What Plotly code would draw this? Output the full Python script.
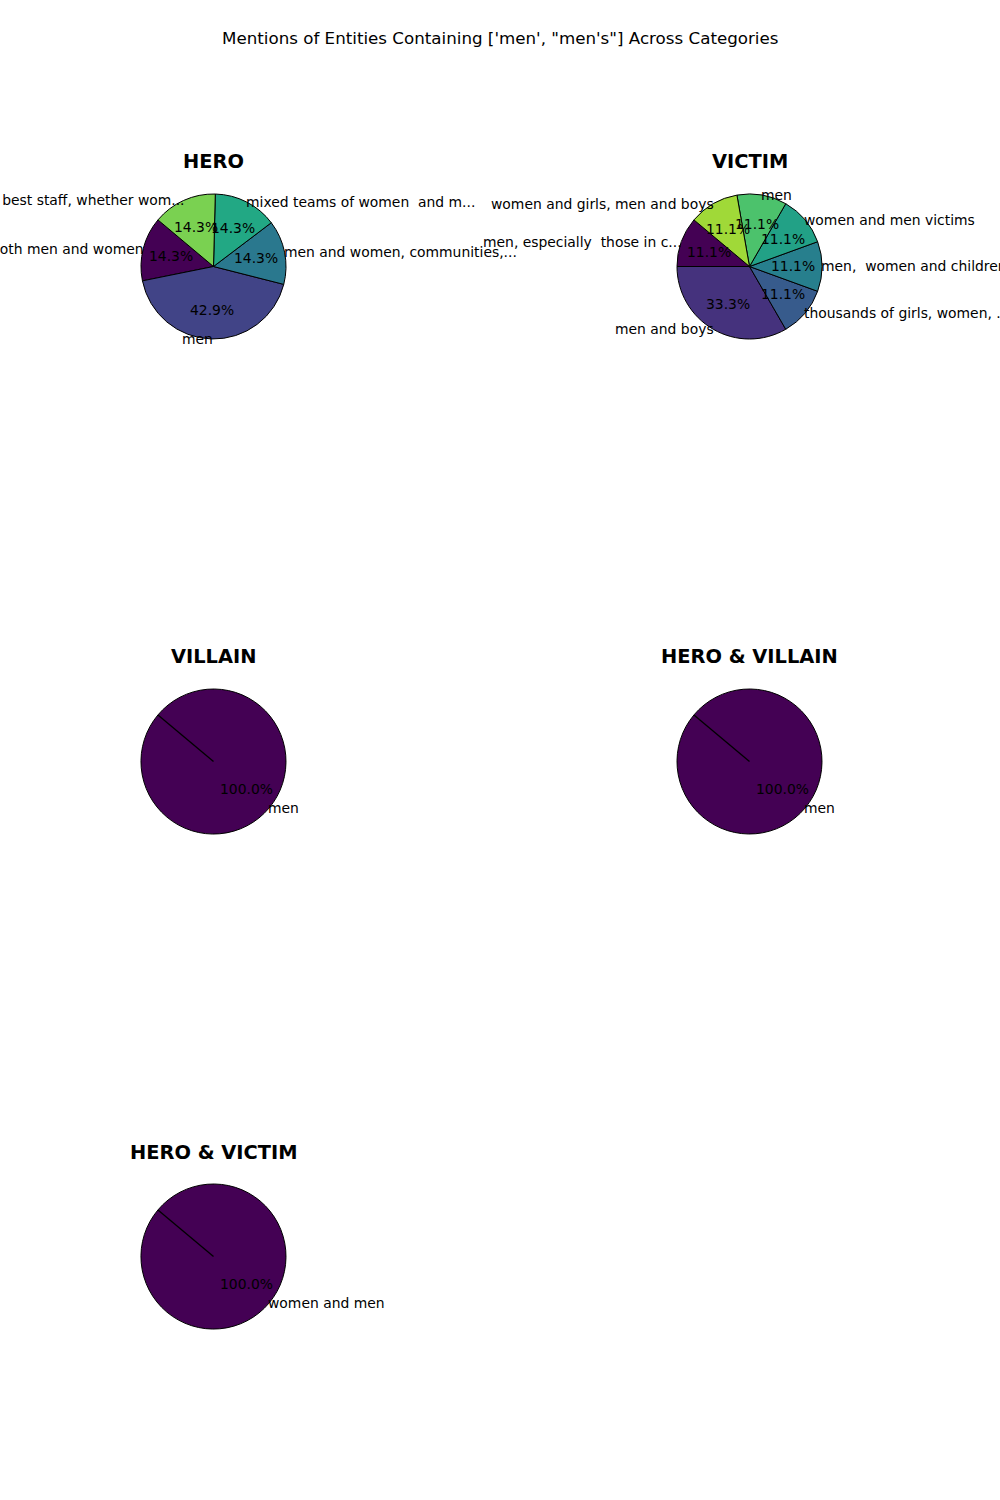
import numpy as np
import plotly.graph_objects as go

TITLE = "Mentions of Entities Containing ['men', \"men's\"] Across Categories"

categories = ["HERO", "VICTIM", "VILLAIN", "HERO & VILLAIN", "HERO & VICTIM"]

hero_labels = ["both men and women", "men", "men and women, communities,...",
               "mixed teams of women  and m...", "the best staff, whether wom..."]
hero_counts = [1, 3, 1, 1, 1]

victim_labels = ["men, especially  those in c...", "men and boys", "thousands of girls, women, ...",
                 "men,  women and children", "women and men victims", "men",
                 "women and girls, men and boys"]
victim_counts = [1, 3, 1, 1, 1, 1, 1]

villain_labels = ["men"]
villain_counts = [1]

hero_villain_labels = ["men"]
hero_villain_counts = [1]

hero_victim_labels = ["women and men"]
hero_victim_counts = [1]

data = {
    "HERO": (hero_labels, hero_counts),
    "VICTIM": (victim_labels, victim_counts),
    "VILLAIN": (villain_labels, villain_counts),
    "HERO & VILLAIN": (hero_villain_labels, hero_villain_counts),
    "HERO & VICTIM": (hero_victim_labels, hero_victim_counts),
}

# ---- layout / style ----
W, H = 1000, 1500
R = 72.5
COL_X = [213.5, 749.5]
ROW_Y = [266.5, 761.5, 1256.5]
START = 140.0
FONT = "DejaVu Sans"
FS = 13.9

VIRIDIS = ["#440154", "#482475", "#414487", "#355f8d", "#2a788e", "#21918c",
           "#22a884", "#44bf70", "#7ad151", "#bddf26", "#fde725"]


def hex2rgb(h):
    h = h.lstrip("#")
    return [int(h[i:i + 2], 16) for i in (0, 2, 4)]


def viridis(t):
    pos = t * (len(VIRIDIS) - 1)
    i = int(np.floor(pos))
    if i >= len(VIRIDIS) - 1:
        return VIRIDIS[-1]
    f = pos - i
    a, b = hex2rgb(VIRIDIS[i]), hex2rgb(VIRIDIS[i + 1])
    c = [round(a[k] + (b[k] - a[k]) * f) for k in range(3)]
    return "rgb(%d,%d,%d)" % tuple(c)


def px2x(px):
    return px / W


def py2y(py):
    return 1 - py / H


fig = go.Figure()
annotations = []
shapes = []

for idx, cat in enumerate(categories):
    labels, counts = data[cat]
    cx = COL_X[idx % 2]
    cy = ROW_Y[idx // 2]
    n = len(labels)
    total = float(sum(counts))
    colors = [viridis(i / n) for i in range(n)]
    # plotly (counterclockwise) places the first slice clockwise of `rotation`;
    # shift so the first slice starts at START (math degrees) like matplotlib
    rot = -(START - 90) - 360.0 * counts[0] / total
    rot = ((rot + 180) % 360) - 180
    fig.add_trace(go.Pie(
        labels=labels, values=counts, sort=False, direction="counterclockwise",
        rotation=rot, textinfo="none", hoverinfo="skip",
        marker=dict(colors=colors, line=dict(color="black", width=1)),
        domain=dict(x=[px2x(cx - R), px2x(cx + R)], y=[py2y(cy + R), py2y(cy - R)]),
        showlegend=False,
    ))
    ang = START
    for lab, v in zip(labels, counts):
        span = 360.0 * v / total
        mid = np.deg2rad(ang + span / 2)
        ang += span
        dx, dy = np.cos(mid), np.sin(mid)
        # percentage
        annotations.append(dict(
            x=px2x(cx + 0.6 * R * dx), y=py2y(cy - 0.6 * R * dy), xref="paper", yref="paper",
            text="%.1f%%" % (100 * v / total), showarrow=False, xanchor="center", yanchor="middle",
            font=dict(family=FONT, size=FS, color="black"), borderpad=0, borderwidth=0))
        # label
        annotations.append(dict(
            x=px2x(cx + R * dx), y=py2y(cy - R * dy), xref="paper", yref="paper",
            text=lab.replace("  ", "&nbsp; "), showarrow=False,
            xanchor="left" if dx > 0 else "right", yanchor="middle",
            xshift=-1 if dx > 0 else 1,
            font=dict(family=FONT, size=FS, color="black"), borderpad=0, borderwidth=0))
    if n == 1:
        a0 = np.deg2rad(START)
        shapes.append(dict(type="line", xref="paper", yref="paper",
                           x0=px2x(cx), y0=py2y(cy),
                           x1=px2x(cx + R * np.cos(a0)), y1=py2y(cy - R * np.sin(a0)),
                           line=dict(color="black", width=1.3)))
    annotations.append(dict(
        x=px2x(cx), y=py2y(cy - 104.5), xref="paper", yref="paper", text="<b>%s</b>" % cat,
        showarrow=False, xanchor="center", yanchor="middle",
        font=dict(family=FONT, size=19.4, color="black")))

annotations.append(dict(
    x=0.5, y=py2y(38), xref="paper", yref="paper", text=TITLE, showarrow=False,
    xanchor="center", yanchor="middle", font=dict(family=FONT, size=16.7, color="black")))

fig.update_layout(
    width=W, height=H, margin=dict(l=0, r=0, t=0, b=0),
    paper_bgcolor="white", plot_bgcolor="white",
    annotations=annotations, shapes=shapes, showlegend=False,
)

fig.write_html("out.html")
